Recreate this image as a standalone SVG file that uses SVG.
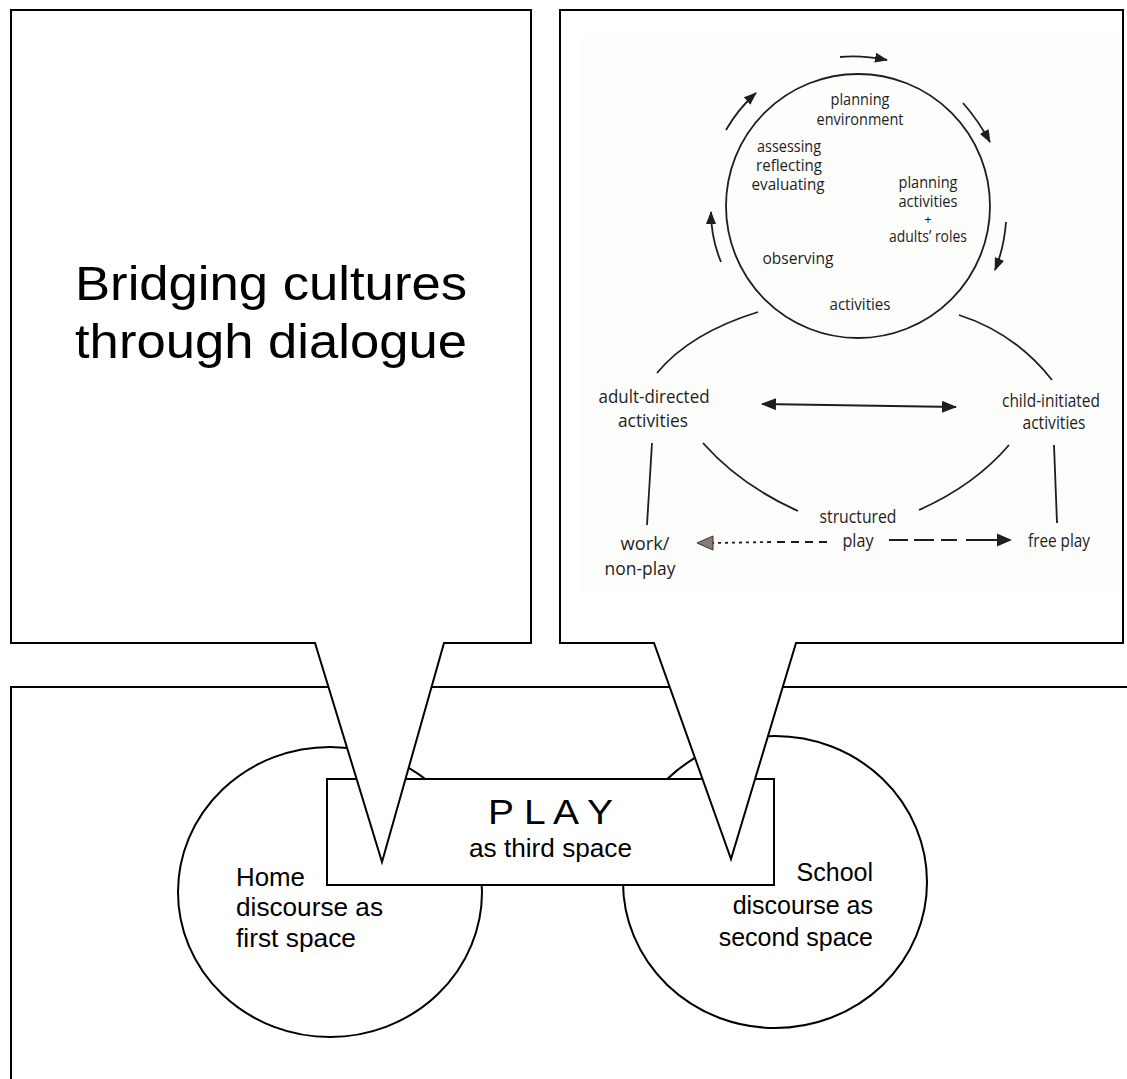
<svg xmlns="http://www.w3.org/2000/svg" width="1127" height="1079" viewBox="0 0 1127 1079">
<style>
.frame{fill:#fff;stroke:#000;stroke-width:2;stroke-linejoin:miter}
.big{font-family:"Liberation Sans",Arial,sans-serif;fill:#000}
.ph{font-family:"Open Sans","Noto Sans",sans-serif;fill:#1e1e1e;text-anchor:middle}
.ln{fill:none;stroke:#1e1e1e;stroke-width:1.8}
</style>
<defs>
<marker id="ah" viewBox="0 0 13 10" refX="12" refY="5" markerWidth="13" markerHeight="10" markerUnits="userSpaceOnUse" orient="auto-start-reverse">
<path d="M0,0 L13,5 L0,10 z" fill="#1e1e1e"/>
</marker>
<marker id="ah2" viewBox="0 0 15 12" refX="14" refY="6" markerWidth="15" markerHeight="12" markerUnits="userSpaceOnUse" orient="auto-start-reverse">
<path d="M0,0 L15,6 L0,12 z" fill="#1e1e1e"/>
</marker>
</defs>

<g id="bottom-panel">
<rect class="frame" x="11" y="687" width="1130" height="420"/>
</g>

<g id="home">
<ellipse class="frame" cx="330" cy="892" rx="152" ry="145"/>
<text class="big" font-size="25"><tspan x="236" y="886" textLength="69" lengthAdjust="spacingAndGlyphs">Home</tspan><tspan x="236" y="916" textLength="147" lengthAdjust="spacingAndGlyphs">discourse as</tspan><tspan x="236" y="947" textLength="120" lengthAdjust="spacingAndGlyphs">first space</tspan></text>
</g>

<g id="school">
<ellipse class="frame" cx="775" cy="882" rx="152" ry="146"/>
<text class="big" font-size="25" text-anchor="end"><tspan x="873" y="881">School</tspan><tspan x="873" y="914">discourse as</tspan><tspan x="873" y="946">second space</tspan></text>
</g>

<g id="play">
<rect class="frame" x="327" y="779" width="447" height="106"/>
<text class="big" font-size="35" x="488" y="824" textLength="125" lengthAdjust="spacingAndGlyphs">P L A Y</text>
<text class="big" font-size="25" x="469" y="857" textLength="163" lengthAdjust="spacingAndGlyphs">as third space</text>
</g>

<g id="callout-left">
<polygon class="frame" points="11,10 531,10 531,643 444,643 382,862 315,643 11,643"/>
<text class="big" font-size="48" x="75" y="300" textLength="392" lengthAdjust="spacingAndGlyphs">Bridging cultures</text>
<text class="big" font-size="48" x="75" y="358" textLength="392" lengthAdjust="spacingAndGlyphs">through dialogue</text>
</g>

<g id="callout-right">
<polygon class="frame" points="560,10 1123,10 1123,643 796,643 731,859 654,643 560,643"/>
<rect x="580" y="35" width="542" height="558" fill="#fdfdfc"/>
</g>

<g id="cycle">
<circle cx="858" cy="206" r="132" fill="none" stroke="#1e1e1e" stroke-width="1.8"/>
<text class="ph" font-size="15.5"><tspan x="860" y="105" textLength="59" lengthAdjust="spacingAndGlyphs">planning</tspan><tspan x="860" y="125" textLength="87" lengthAdjust="spacingAndGlyphs">environment</tspan></text>
<text class="ph" font-size="15.5"><tspan x="789" y="152" textLength="64" lengthAdjust="spacingAndGlyphs">assessing</tspan><tspan x="789" y="171" textLength="66" lengthAdjust="spacingAndGlyphs">reflecting</tspan><tspan x="788" y="190" textLength="73" lengthAdjust="spacingAndGlyphs">evaluating</tspan></text>
<text class="ph" font-size="15.5"><tspan x="928" y="188" textLength="59" lengthAdjust="spacingAndGlyphs">planning</tspan><tspan x="928" y="207" textLength="59" lengthAdjust="spacingAndGlyphs">activities</tspan></text>
<text class="ph" font-size="13" x="928" y="224">+</text>
<text class="ph" font-size="15.5" x="928" y="242" textLength="78" lengthAdjust="spacingAndGlyphs">adults’ roles</text>
<text class="ph" font-size="15.5" x="798" y="264" textLength="71" lengthAdjust="spacingAndGlyphs">observing</text>
<text class="ph" font-size="15.5" x="860" y="310" textLength="61" lengthAdjust="spacingAndGlyphs">activities</text>
</g>

<g id="adult-directed">
<text class="ph" font-size="18"><tspan x="654" y="403" textLength="111" lengthAdjust="spacingAndGlyphs">adult-directed</tspan><tspan x="653" y="427" textLength="70" lengthAdjust="spacingAndGlyphs">activities</tspan></text>
</g>
<g id="child-initiated">
<text class="ph" font-size="17.5"><tspan x="1051" y="407" textLength="98" lengthAdjust="spacingAndGlyphs">child-initiated</tspan><tspan x="1054" y="429" textLength="63" lengthAdjust="spacingAndGlyphs">activities</tspan></text>
</g>
<g id="structured-play">
<text class="ph" font-size="17.5"><tspan x="858" y="523" textLength="77" lengthAdjust="spacingAndGlyphs">structured</tspan><tspan x="858" y="547" textLength="31" lengthAdjust="spacingAndGlyphs">play</tspan></text>
</g>
<g id="work">
<text class="ph" font-size="18"><tspan x="645" y="550" textLength="49" lengthAdjust="spacingAndGlyphs">work/</tspan><tspan x="640" y="575" textLength="71" lengthAdjust="spacingAndGlyphs">non-play</tspan></text>
</g>
<g id="free-play">
<text class="ph" font-size="17.5" x="1059" y="547" textLength="62" lengthAdjust="spacingAndGlyphs">free play</text>
</g>

<g id="connectors">
<path class="ln" d="M840,57 Q862,55 887,60" marker-end="url(#ah)"/>
<path class="ln" d="M963,103 Q978,120 990,142" marker-end="url(#ah)"/>
<path class="ln" d="M1006,222 Q1004,248 995,270" marker-end="url(#ah)"/>
<path class="ln" d="M721,262 Q711,238 711,212" marker-end="url(#ah)"/>
<path class="ln" d="M726,130 Q738,109 756,93" marker-end="url(#ah)"/>
<path class="ln" d="M657,373 Q690,333 758,312"/>
<path class="ln" d="M959,315 Q1015,333 1052,380"/>
<path class="ln" d="M703,443 Q740,485 798,511"/>
<path class="ln" d="M1009,445 Q975,485 919,510"/>
<path class="ln" d="M652,443 L647,525"/>
<path class="ln" d="M1054,445 L1057,523"/>
<path class="ln" d="M762,404 L956,407" marker-start="url(#ah2)" marker-end="url(#ah2)"/>
<path class="ln" d="M770,542 L713,543" stroke-dasharray="3,4"/>
<path class="ln" d="M827,542 L770,542" stroke-dasharray="8,6"/>
<polygon points="697,543 713,536 713,550" fill="#8a7c72" stroke="#333" stroke-width="1"/>
<path class="ln" d="M889,540 L908,540 M914,540 L934,540 M941,540 L957,540 M966,540 L1000,540"/>
<polygon points="1012,540 997,533.5 997,546.5" fill="#1e1e1e"/>
</g>
</svg>
